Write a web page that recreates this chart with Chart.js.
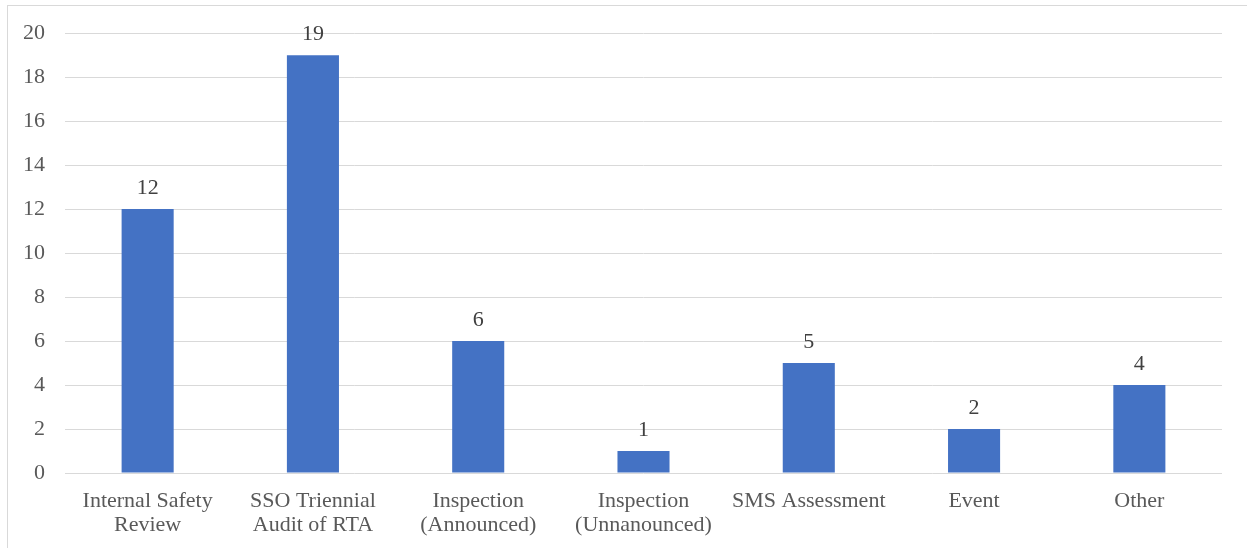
<!DOCTYPE html>
<html>
<head>
<meta charset="utf-8">
<script src="https://cdn.jsdelivr.net/npm/chart.js@4/dist/chart.umd.min.js"></script>
<style>
  html, body { margin: 0; padding: 0; background: #ffffff; }
  #wrap { position: relative; width: 1247px; height: 548px; overflow: hidden; }
  #frame { position: absolute; left: 7px; top: 5px; right: 0; bottom: 0;
           border-left: 1px solid #d9d9d9; border-top: 1px solid #d9d9d9; }
  canvas { position: absolute; left: 0; top: 0; }
</style>
</head>
<body>
<div id="wrap">
  <div id="frame"></div>
  <canvas id="chart" width="1247" height="548"></canvas>
</div>
<script>
// Review types and counts
const categories = [
  ["Internal Safety", "Review"],
  ["SSO Triennial", "Audit of RTA"],
  ["Inspection", "(Announced)"],
  ["Inspection", "(Unnanounced)"],
  "SMS Assessment",
  "Event",
  "Other"
];
const counts = [12, 19, 6, 1, 5, 2, 4];
const yTicks = [0, 2, 4, 6, 8, 10, 12, 14, 16, 18, 20];

const serif = "'Liberation Serif', 'Times New Roman', serif";

// Writes each bar's value centred above it
const valueLabels = {
  id: 'valueLabels',
  afterDatasetsDraw(chart) {
    const ctx = chart.ctx;
    const meta = chart.getDatasetMeta(0);
    ctx.save();
    ctx.font = "22px " + serif;
    ctx.fillStyle = '#404040';
    ctx.textAlign = 'center';
    ctx.textBaseline = 'alphabetic';
    meta.data.forEach((bar, i) => {
      ctx.fillText(String(counts[i]), bar.x, bar.y - 15);
    });
    ctx.restore();
  }
};

new Chart(document.getElementById('chart'), {
  type: 'bar',
  data: {
    labels: categories,
    datasets: [{
      data: counts,
      backgroundColor: '#4472C4',
      borderWidth: 0,
      categoryPercentage: 1.0,
      barPercentage: 0.315
    }]
  },
  options: {
    responsive: false,
    animation: false,
    devicePixelRatio: 1,
    layout: { padding: { left: 0, right: 25, top: 33, bottom: 0 } },
    plugins: {
      legend: { display: false },
      tooltip: { enabled: false }
    },
    scales: {
      x: {
        grid: { display: false, drawTicks: false },
        border: { display: false },
        afterFit(scale) { scale.height = 75; },
        ticks: {
          color: '#595959',
          font: { family: serif, size: 22, lineHeight: 1.1 },
          padding: 16,
          maxRotation: 0,
          autoSkip: false
        }
      },
      y: {
        min: 0,
        max: 20,
        afterBuildTicks(scale) { scale.ticks = yTicks.map(v => ({ value: v })); },
        afterFit(scale) { scale.width = 65; },
        grid: { color: '#d9d9d9', lineWidth: 1, drawTicks: false },
        border: { display: false },
        ticks: {
          color: '#595959',
          font: { family: serif, size: 22 },
          padding: 20
        }
      }
    }
  },
  plugins: [valueLabels]
});
</script>
</body>
</html>
